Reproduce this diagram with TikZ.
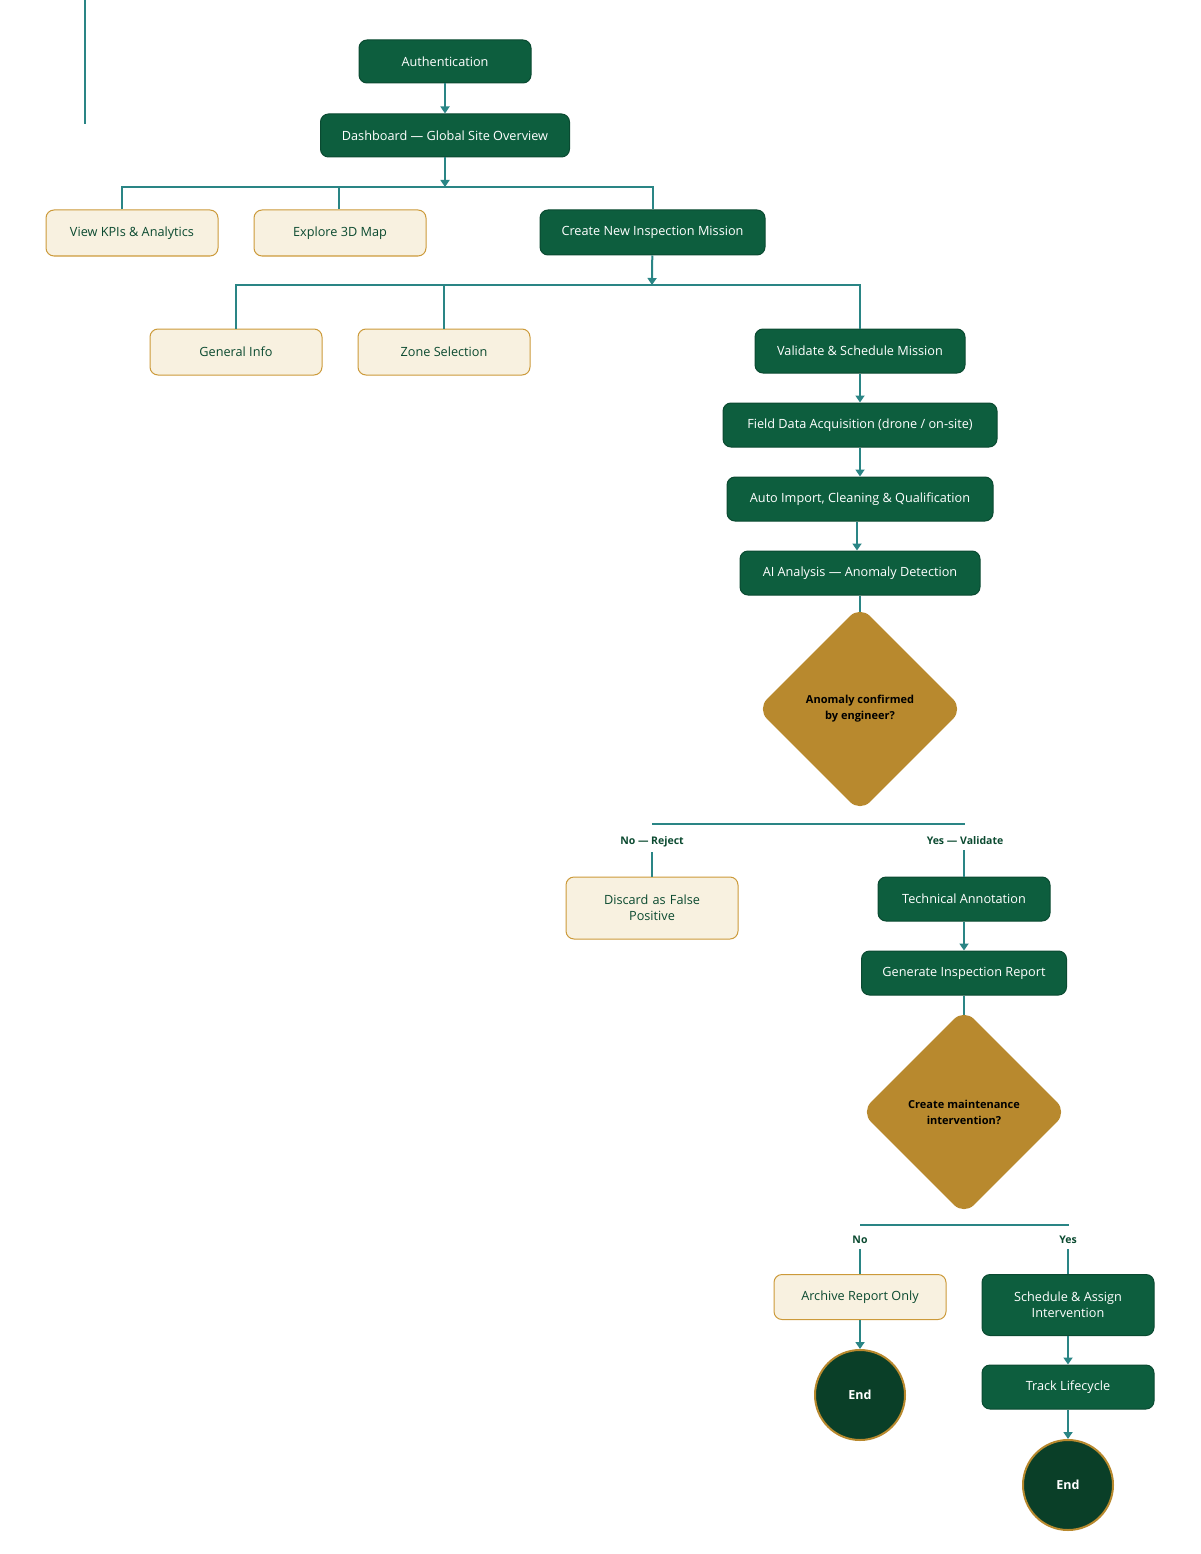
\documentclass[tikz,border=0pt]{standalone}
\usepackage{fontspec}
\setmainfont{Open Sans}
\usetikzlibrary{shapes.geometric,arrows.meta,backgrounds}
\definecolor{dgreen}{HTML}{0D5E3E}
\definecolor{dgreenb}{HTML}{0A4A31}
\definecolor{endgreen}{HTML}{0A3F28}
\definecolor{cream}{HTML}{F8F1E0}
\definecolor{goldb}{HTML}{CC9A3A}
\definecolor{goldf}{HTML}{B8892E}
\definecolor{teal1}{HTML}{2A8585}
\definecolor{tgreen}{HTML}{0B4A30}
\tikzset{
  conn/.style={draw=teal1, line width=2pt},
  arr/.style={conn, -{Triangle[width=9pt,length=7pt]}},
  basebox/.style={rectangle, rounded corners=8pt, line width=1pt, font=\fontsize{12.7}{16}\selectfont, align=center, inner sep=4pt},
  gbox/.style={basebox, fill=dgreen, draw=dgreenb, text=white},
  cbox/.style={basebox, fill=cream, draw=goldb, text=tgreen},
  decision/.style={diamond, aspect=1, minimum width=206pt, minimum height=206pt, inner sep=0pt, fill=goldf, rounded corners=14pt, font=\bfseries\fontsize{11}{16}\selectfont, text=black, align=center},
  endnode/.style={circle, minimum size=90pt, fill=endgreen, draw=goldf, line width=2pt, text=white, font=\bfseries\fontsize{12.5}{14}\selectfont},
  lab/.style={font=\bfseries\fontsize{10.5}{12}\selectfont, text=tgreen, inner sep=3pt},
}
\begin{document}
\begin{tikzpicture}[x=1pt,y=-1pt]
\useasboundingbox (0,0) rectangle (1200,1554);
% stray line
\coordinate (s1) at (85,0);
\coordinate (s2) at (85,124);
\draw[conn, line width=1.6pt] (s1) -- (s2);

\node[gbox, minimum width=172pt, minimum height=43pt] (auth) at (445,61.5) {Authentication};
\node[gbox, minimum width=249pt, minimum height=43pt] (dash) at (445,135.5) {Dashboard — Global Site Overview};
\node[cbox, minimum width=172pt, minimum height=46pt] (kpi) at (132,233) {View KPIs \& Analytics};
\node[cbox, minimum width=172pt, minimum height=46pt] (map) at (340,233) {Explore 3D Map};
\node[gbox, minimum width=225pt, minimum height=45pt] (create) at (652.5,232.5) {Create New Inspection Mission};
\node[cbox, minimum width=172pt, minimum height=46pt] (gen) at (236,352) {General Info};
\node[cbox, minimum width=172pt, minimum height=46pt] (zone) at (444,352) {Zone Selection};
\node[gbox, minimum width=210pt, minimum height=44pt] (valid) at (860,351) {Validate \& Schedule Mission};
\node[gbox, minimum width=274pt, minimum height=44pt] (field) at (860,425) {Field Data Acquisition (drone / on-site)};
\node[gbox, minimum width=266pt, minimum height=44pt] (auto) at (860,499) {Auto Import, Cleaning \& Qualification};
\node[gbox, minimum width=240pt, minimum height=44pt] (ai) at (860,573) {AI Analysis — Anomaly Detection};
\node[decision] (d1) at (860,709) {Anomaly confirmed\\by engineer?};
\node[lab] (lno1) at (652,842) {No — Reject};
\node[lab] (lyes1) at (965,841) {Yes — Validate};
\node[cbox, minimum width=172pt, minimum height=62pt, text width=150pt] (disc) at (652,908) {Discard as False\\Positive};
\node[gbox, minimum width=172pt, minimum height=44pt] (tech) at (964,899) {Technical Annotation};
\node[gbox, minimum width=205pt, minimum height=44pt] (report) at (964,973) {Generate Inspection Report};
\node[decision] (d2) at (964,1112) {Create maintenance\\intervention?};
\node[lab] (lno2) at (860,1240) {No};
\node[lab] (lyes2) at (1068,1240) {Yes};
\node[cbox, minimum width=172pt, minimum height=45pt] (arch) at (860,1297) {Archive Report Only};
\node[gbox, minimum width=172pt, minimum height=61pt] (sched) at (1068,1305) {Schedule \& Assign\\Intervention};
\node[gbox, minimum width=172pt, minimum height=44pt] (track) at (1068,1387) {Track Lifecycle};
\node[endnode] (end1) at (860,1395) {End};
\node[endnode] (end2) at (1068,1485) {End};

% connectors
\draw[arr] (auth) -- (dash);
\coordinate (b1) at (445,187);
\coordinate (b1l) at (122,187);
\coordinate (b1m) at (339,187);
\coordinate (b1r) at (653,187);
\draw[arr] (dash) -- (b1);
\draw[conn] (kpi.north -| b1l) -- (b1l) -- (b1r) -- (create.north -| b1r);
\draw[conn] (b1m) -- (map.north -| b1m);

\coordinate (b2) at (652,285);
\coordinate (b2l) at (236,285);
\coordinate (b2m) at (444,285);
\coordinate (b2r) at (860,285);
\draw[arr] (create) -- (b2);
\draw[conn] (gen.north) -- (b2l) -- (b2r) -- (valid.north);
\draw[conn] (b2m) -- (zone.north);

\draw[arr] (valid) -- (field);
\draw[arr] (field) -- (auto);
\draw[arr] (auto.south -| 857,0) -- (ai.north -| 857,0);
\begin{scope}[on background layer]
\draw[conn] (ai) -- (d1.center);
\draw[conn] (report) -- (d2.center);
\end{scope}

\coordinate (b3l) at (652,824);
\coordinate (b3r) at (965,824);
\draw[conn] (b3l) -- (b3r);
\draw[conn] (lno1.south) ++(0,2) -- (disc.north);
\draw[conn] (lyes1.south -| tech.north) ++(0,2) -- (tech.north);
\draw[arr] (tech) -- (report);

\coordinate (b4l) at (860,1225);
\coordinate (b4r) at (1069,1225);
\draw[conn] (b4l) -- (b4r);
\draw[conn] (lno2.south) ++(0,2) -- (arch.north);
\draw[conn] (lyes2.south) ++(0,2) -- (sched.north);
\draw[arr] (arch) -- (end1);
\draw[arr] (sched) -- (track);
\draw[arr] (track) -- (end2);
\end{tikzpicture}
\end{document}
